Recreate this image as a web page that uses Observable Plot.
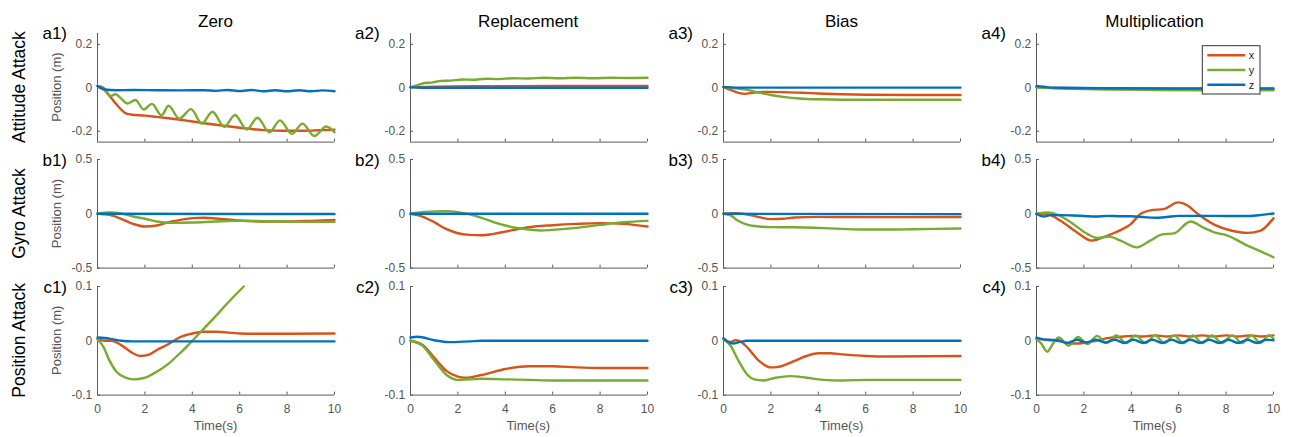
<!DOCTYPE html>
<html><head><meta charset="utf-8">
<script src="https://cdn.jsdelivr.net/npm/d3@7"></script>
<script src="https://cdn.jsdelivr.net/npm/@observablehq/plot@0.6"></script>
<style>
body{margin:0;background:#fff;}
#chart{position:relative;width:1291px;height:437px;overflow:hidden;background:#fff;font-family:"Liberation Sans",Arial,Helvetica,sans-serif;}
#chart svg{position:absolute;}
</style></head><body><div id="chart"></div>
<script>
// ---------- labels ----------
const series = ["x", "y", "z"];
const colors = ["#D95319", "#77AC30", "#0072BD"];
const columns = ["Zero", "Replacement", "Bias", "Multiplication"];
const rows = ["Attitude Attack", "Gyro Attack", "Position Attack"];
const rowLetters = ["a", "b", "c"];
const yDomains = [[-0.25, 0.25], [-0.5, 0.5], [-0.1, 0.1]];
const yTicks = [[-0.2, 0, 0.2], [-0.5, 0, 0.5], [-0.1, 0, 0.1]];
const xTicks = [0, 2, 4, 6, 8, 10];
const yLabel = "Position (m)";
const xLabel = "Time(s)";

// ---------- data: [time, position] ----------
// Row a: Attitude attack
const a1_x = [[0,0.008],[0.25,0.0],[0.5,-0.035],[0.75,-0.07],[1.0,-0.1],[1.2,-0.118],[1.4,-0.123],[2,-0.128],[2.5,-0.134],[3,-0.14],[3.5,-0.147],[4,-0.155],[4.5,-0.163],[5,-0.17],[5.5,-0.177],[6,-0.184],[6.5,-0.19],[7,-0.195],[7.5,-0.197],[8,-0.198],[8.5,-0.198],[9,-0.197],[9.5,-0.195],[10,-0.193]];
const a1_y = [[0,0.008],[0.3,-0.012],[0.55,-0.038],[0.76,-0.03],[1.0,-0.05],[1.25,-0.072],[1.6,-0.056],[1.95,-0.1],[2.3,-0.074],[2.7,-0.127],[3.0,-0.083],[3.45,-0.142],[3.95,-0.098],[4.4,-0.165],[4.85,-0.11],[5.35,-0.18],[5.8,-0.125],[6.3,-0.192],[6.75,-0.138],[7.25,-0.205],[7.7,-0.15],[8.2,-0.212],[8.65,-0.165],[9.15,-0.222],[9.65,-0.178],[10,-0.205]];
const a1_z = [[0,0.008],[0.3,-0.008],[0.8,-0.011],[1.5,-0.01],[2.5,-0.011],[3.5,-0.012],[4.5,-0.011],[5,-0.014],[5.5,-0.01],[6,-0.015],[6.5,-0.01],[7,-0.016],[7.5,-0.011],[8,-0.016],[8.5,-0.011],[9,-0.016],[9.5,-0.012],[10,-0.016]];
const a2_x = [[0,0.002],[1,0.005],[3,0.007],[6,0.008],[10,0.008]];
const a2_y = [[0,0.002],[0.3,0.012],[0.6,0.022],[0.9,0.024],[1.3,0.032],[1.7,0.033],[2.2,0.038],[2.6,0.037],[3.2,0.042],[3.7,0.04],[4.3,0.044],[5,0.043],[5.6,0.046],[6.3,0.044],[7,0.046],[7.7,0.044],[8.5,0.046],[9.2,0.045],[10,0.046]];
const a2_z = [[0,0.003],[0.5,0.0],[3,0.0],[10,0.0]];
const a3_x = [[0,0.003],[0.3,-0.01],[0.6,-0.022],[0.9,-0.028],[1.3,-0.022],[1.8,-0.019],[2.5,-0.02],[3.3,-0.023],[4,-0.026],[5,-0.03],[6,-0.032],[8,-0.033],[10,-0.033]];
const a3_y = [[0,0.003],[0.5,-0.002],[0.9,-0.007],[1.4,-0.02],[2,-0.033],[2.6,-0.043],[3.2,-0.049],[4,-0.053],[5,-0.055],[7,-0.055],[10,-0.055]];
const a3_z = [[0,0.004],[0.5,0.001],[10,0.001]];
const a4_x = [[0,0.002],[1,-0.001],[5,-0.004],[10,-0.004]];
const a4_y = [[0,0.002],[1,-0.003],[2,-0.006],[3,-0.008],[5,-0.01],[7,-0.011],[10,-0.011]];
const a4_z = [[0,0.008],[0.5,0.002],[1,0.0],[3,-0.002],[6,-0.003],[10,-0.003]];
// Row b: Gyro attack
const b1_x = [[0,0],[0.5,-0.01],[1,-0.046],[1.5,-0.093],[2,-0.117],[2.5,-0.108],[3,-0.077],[3.5,-0.056],[4,-0.04],[4.5,-0.037],[5,-0.043],[6,-0.062],[7,-0.071],[8,-0.071],[9,-0.065],[10,-0.056]];
const b1_y = [[0,0],[0.5,0.012],[1,0.003],[1.5,-0.025],[2,-0.046],[2.5,-0.071],[3,-0.083],[4,-0.08],[5,-0.071],[6,-0.065],[7,-0.068],[8,-0.071],[9,-0.074],[10,-0.074]];
const b1_z = [[0,0],[10,-0.002]];
const b2_x = [[0,0],[0.5,-0.025],[1,-0.077],[1.5,-0.139],[2,-0.179],[2.5,-0.194],[3,-0.198],[3.5,-0.185],[4,-0.164],[4.5,-0.142],[5,-0.123],[6,-0.105],[7,-0.093],[8,-0.086],[9,-0.093],[10,-0.117]];
const b2_y = [[0,0],[0.5,0.015],[1,0.022],[1.5,0.025],[2,0.015],[2.5,-0.006],[3,-0.037],[3.5,-0.077],[4,-0.108],[4.5,-0.13],[5,-0.145],[5.5,-0.154],[6,-0.148],[7,-0.13],[8,-0.102],[9,-0.077],[10,-0.065]];
const b2_z = [[0,0],[10,0]];
const b3_x = [[0,0],[0.5,0.006],[1,-0.006],[1.5,-0.03],[2,-0.049],[2.5,-0.046],[3,-0.034],[4,-0.028],[5,-0.03],[7,-0.031],[10,-0.03]];
const b3_y = [[0,0],[0.3,-0.015],[0.6,-0.062],[1,-0.1],[1.5,-0.117],[2,-0.123],[3,-0.124],[4,-0.13],[5,-0.139],[6,-0.145],[7,-0.145],[8,-0.142],[10,-0.136]];
const b3_z = [[0,0],[10,-0.003]];
const b4_x = [[0,0],[0.5,-0.006],[1,-0.062],[1.7,-0.17],[2.32,-0.247],[3.0,-0.2],[3.7,-0.133],[3.95,-0.1],[4.4,0],[4.8,0.031],[5.4,0.046],[5.97,0.105],[6.37,0.077],[6.8,0],[7.5,-0.1],[8.2,-0.154],[8.9,-0.176],[9.46,-0.154],[10,-0.04]];
const b4_y = [[0,0],[0.5,0.012],[0.9,-0.01],[1.44,-0.077],[2.14,-0.185],[2.56,-0.222],[3.06,-0.21],[3.55,-0.247],[4.23,-0.309],[4.8,-0.247],[5.3,-0.19],[5.8,-0.18],[6.5,-0.071],[7.07,-0.13],[7.5,-0.17],[8.06,-0.2],[8.9,-0.293],[9.5,-0.35],[10,-0.4]];
const b4_z = [[0,0],[0.3,-0.025],[0.6,-0.012],[1,-0.012],[1.5,-0.015],[2,-0.02],[2.5,-0.025],[3,-0.019],[3.5,-0.022],[4,-0.022],[4.5,-0.03],[5,-0.037],[5.5,-0.03],[6,-0.019],[7,-0.019],[8,-0.02],[9,-0.02],[9.5,-0.01],[10,0.003]];
// Row c: Position attack
const c1_x = [[0,0.003],[0.3,0],[0.6,0.0],[1,-0.008],[1.5,-0.023],[1.8,-0.028],[2.2,-0.025],[2.5,-0.017],[3,-0.006],[3.5,0.007],[4,0.0135],[4.5,0.0166],[5,0.0166],[6,0.0135],[7,0.013],[8,0.013],[10,0.0135]];
const c1_y = [[0,0.003],[0.25,-0.011],[0.5,-0.036],[0.8,-0.057],[1.2,-0.068],[1.5,-0.071],[2,-0.068],[2.5,-0.057],[3,-0.042],[3.5,-0.022],[4,0.0],[4.5,0.023],[5,0.046],[5.5,0.07],[6.17,0.1]];
const c1_z = [[0,0.006],[0.5,0.004],[1,0.0],[1.5,-0.001],[3,-0.001],[10,-0.001]];
const c2_x = [[0,0],[0.5,-0.0074],[1,-0.031],[1.5,-0.055],[2,-0.066],[2.3,-0.068],[3,-0.063],[4,-0.052],[5,-0.047],[6,-0.047],[7,-0.049],[8,-0.05],[10,-0.05]];
const c2_y = [[0,0],[0.5,-0.009],[1,-0.036],[1.5,-0.062],[2,-0.072],[2.5,-0.071],[3,-0.07],[4,-0.071],[5,-0.072],[6,-0.073],[10,-0.073]];
const c2_z = [[0,0.006],[0.3,0.0074],[1,0.001],[1.6,-0.0025],[2.5,-0.001],[3,0],[10,0]];
const c3_x = [[0,0.003],[0.3,-0.002],[0.5,0.001],[0.7,-0.001],[1,-0.012],[1.5,-0.037],[2,-0.049],[2.3,-0.048],[3,-0.037],[3.5,-0.028],[4,-0.023],[4.5,-0.023],[5,-0.025],[6,-0.028],[7,-0.029],[10,-0.028]];
const c3_y = [[0,0.003],[0.3,-0.009],[0.6,-0.034],[1,-0.062],[1.3,-0.071],[1.7,-0.073],[2.2,-0.068],[2.8,-0.065],[3.5,-0.068],[4.2,-0.072],[5,-0.073],[6,-0.072],[7,-0.072],[10,-0.072]];
const c3_z = [[0,0.005],[0.2,-0.002],[0.4,-0.005],[0.7,-0.002],[1,0],[10,0]];
const c4_x = [[0,0.003],[0.5,0.002],[1,-0.001],[1.5,-0.005],[2,-0.004],[2.5,0.0],[3,0.005],[3.5,0.007],[4,0.009],[4.5,0.008],[5,0.01],[5.5,0.008],[6,0.01],[6.5,0.008],[7,0.01],[7.5,0.008],[8,0.01],[8.5,0.008],[9,0.01],[9.5,0.008],[10,0.01]];
const c4_y = [[0,0.003],[0.2,-0.005],[0.45,-0.02],[0.7,-0.005],[0.94,0.006],[1.35,-0.009],[1.75,0.007],[2.15,-0.006],[2.56,0.009],[2.95,-0.004],[3.37,0.01],[3.78,-0.004],[4.18,0.01],[4.6,-0.004],[5.0,0.01],[5.4,-0.004],[5.8,0.01],[6.2,-0.004],[6.6,0.01],[7.0,-0.004],[7.4,0.01],[7.83,-0.004],[8.27,0.01],[8.67,-0.004],[9.07,0.01],[9.45,-0.004],[9.8,0.01],[10,0.004]];
const c4_z = [[0,0.006],[0.4,0.002],[0.9,0.001],[1.3,-0.004],[1.7,0.002],[2.1,-0.003],[2.5,0.002],[2.9,-0.003],[3.3,0.002],[3.7,-0.004],[4.1,0.002],[4.5,-0.004],[4.9,0.002],[5.3,-0.004],[5.7,0.002],[6.1,-0.004],[6.5,0.002],[6.9,-0.004],[7.3,0.002],[7.7,-0.004],[8.1,0.002],[8.5,-0.004],[8.9,0.002],[9.3,-0.004],[9.7,0.002],[10,0.001]];

const panels = [
  [[a1_x,a1_y,a1_z],[a2_x,a2_y,a2_z],[a3_x,a3_y,a3_z],[a4_x,a4_y,a4_z]],
  [[b1_x,b1_y,b1_z],[b2_x,b2_y,b2_z],[b3_x,b3_y,b3_z],[b4_x,b4_y,b4_z]],
  [[c1_x,c1_y,c1_z],[c2_x,c2_y,c2_z],[c3_x,c3_y,c3_z],[c4_x,c4_y,c4_z]]
];

// ---------- layout ----------
const FONT = '"Liberation Sans", Arial, Helvetica, sans-serif';
const FL = [97, 409.7, 723, 1036], FW = 237;
const FT = [32.8, 159.3, 286], FH = 108.6;
const ML = 70, MR = 20, MT = 10, MB = 44;
const axisColor = "#5a5a5a", labelColor = "#555";
const fmt = d => d === 0 ? "0" : String(d);

const chart = document.getElementById("chart");

rows.forEach((rowName, r) => {
  columns.forEach((colName, c) => {
    const data = series.flatMap((s, i) => panels[r][c][i].map(([t, v]) => ({t, v, s})));
    const svg = Plot.plot({
      width: ML + FW + MR, height: MT + FH + MB,
      marginLeft: ML, marginRight: MR, marginTop: MT, marginBottom: MB,
      style: {background: "transparent", overflow: "visible", fontFamily: FONT, fontSize: "12px", color: labelColor},
      x: {domain: [0, 10]},
      y: {domain: yDomains[r]},
      color: {domain: series, range: colors},
      marks: [
        Plot.ruleX([0], {stroke: axisColor, strokeWidth: 1}),
        Plot.ruleY([yDomains[r][0]], {stroke: axisColor, strokeWidth: 1}),
        Plot.axisY({ticks: yTicks[r], tickSize: -3, tickPadding: 8.3, tickFormat: fmt, stroke: axisColor, fill: labelColor, label: null}),
        Plot.axisX({ticks: xTicks, tickSize: -3, tickPadding: 12.2, tickFormat: r === 2 ? fmt : () => "", stroke: axisColor, fill: labelColor, label: null}),
        Plot.line(data, {x: "t", y: "v", z: "s", stroke: "s", curve: "monotone-x", strokeWidth: 2.4})
      ]
    });
    svg.style.left = (FL[c] - ML) + "px";
    svg.style.top = (FT[r] - MT) + "px";
    chart.appendChild(svg);
  });
});

// ---------- overlay text & legend ----------
const ov = d3.select(chart).append("svg")
  .attr("width", 1291).attr("height", 437)
  .style("left", "0px").style("top", "0px")
  .style("pointer-events", "none")
  .style("font-family", FONT);

columns.forEach((name, c) => {
  ov.append("text").attr("x", FL[c] + FW / 2).attr("y", 26.5)
    .attr("text-anchor", "middle").attr("font-size", 17).attr("fill", "#000").text(name);
  ov.append("text").attr("x", FL[c] + FW / 2).attr("y", 429.5)
    .attr("text-anchor", "middle").attr("font-size", 13).attr("fill", labelColor).text(xLabel);
});
rows.forEach((name, r) => {
  const cy = FT[r] + FH / 2;
  ov.append("text").attr("transform", `translate(25,${cy}) rotate(-90)`)
    .attr("text-anchor", "middle").attr("font-size", 17.5).attr("fill", "#000").text(name);
  ov.append("text").attr("transform", `translate(61,${cy}) rotate(-90)`)
    .attr("text-anchor", "middle").attr("font-size", 13).attr("fill", labelColor).text(yLabel);
  columns.forEach((_, c) => {
    ov.append("text").attr("x", FL[c] - 30).attr("y", FT[r] + 6.5)
      .attr("text-anchor", "end").attr("font-size", 17).attr("fill", "#000")
      .text(`${rowLetters[r]}${c + 1})`);
  });
});

// legend in panel a4
const lg = ov.append("g").attr("transform", "translate(1202.3,45.7)");
lg.append("rect").attr("width", 57.7).attr("height", 48.3)
  .attr("fill", "#fff").attr("stroke", "#333").attr("stroke-width", 1);
series.forEach((s, i) => {
  const y = 9.5 + i * 14.8;
  lg.append("line").attr("x1", 5).attr("x2", 43).attr("y1", y).attr("y2", y)
    .attr("stroke", colors[i]).attr("stroke-width", 2.4);
  lg.append("text").attr("x", 46.5).attr("y", y).attr("dy", "0.35em")
    .attr("font-size", 11).attr("fill", "#262626").text(s);
});
</script></body></html>
